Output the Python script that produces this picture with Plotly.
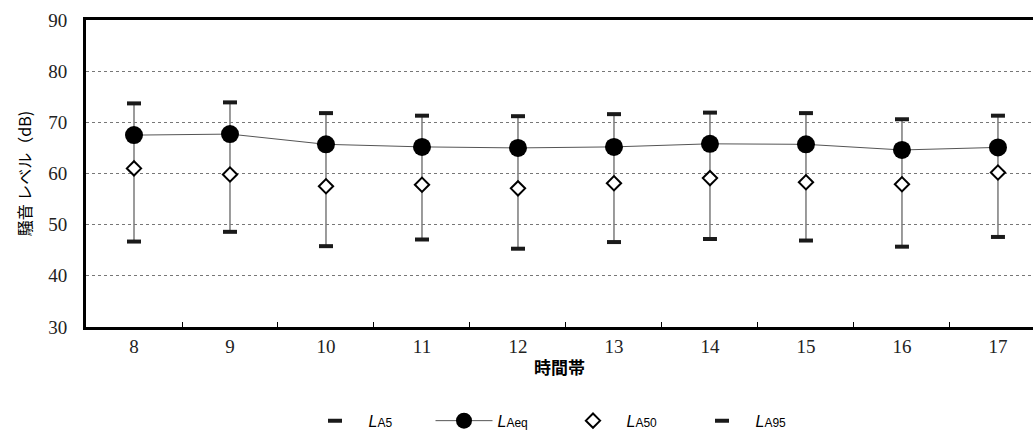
import plotly.graph_objects as go

hours = ["8", "9", "10", "11", "12", "13", "14", "15", "16", "17"]
la5 = [73.7, 73.9, 71.8, 71.3, 71.2, 71.6, 71.9, 71.8, 70.6, 71.3]
laeq = [67.5, 67.7, 65.7, 65.2, 65.0, 65.2, 65.8, 65.7, 64.6, 65.1]
la50 = [61.0, 59.8, 57.5, 57.8, 57.1, 58.1, 59.1, 58.3, 57.9, 60.2]
la95 = [46.7, 48.6, 45.8, 47.1, 45.3, 46.6, 47.2, 46.9, 45.7, 47.6]

def lbl(sub):
    return ('<i>L</i><span style="font-size:12px">' + sub + '</span>')

up = [a - b for a, b in zip(la5, laeq)]
down = [b - c for b, c in zip(laeq, la95)]

fig = go.Figure()
fig.add_trace(go.Scatter(
    x=hours, y=laeq, name=lbl("Aeq"), mode="lines+markers", legendrank=2,
    line=dict(color="#555555", width=1),
    marker=dict(symbol="circle", size=18, color="black"),
    error_y=dict(type="data", symmetric=False, array=up, arrayminus=down,
                 width=0, color="#7a7a7a", thickness=1.5),
))
fig.add_trace(go.Scatter(
    x=hours, y=la50, name=lbl("A50"), mode="markers", legendrank=3,
    marker=dict(symbol="diamond", size=11, color="white",
                line=dict(color="black", width=2)),
))
fig.add_trace(go.Scatter(
    x=hours, y=la5, name=lbl("A5"), mode="markers", legendrank=1,
    marker=dict(symbol="line-ew", size=10, line=dict(color="#1a1a1a", width=4)),
))
fig.add_trace(go.Scatter(
    x=hours, y=la95, name=lbl("A95"), mode="markers", legendrank=4,
    marker=dict(symbol="line-ew", size=10, line=dict(color="#1a1a1a", width=4)),
))

fig.update_layout(
    width=1033, height=441,
    margin=dict(l=86, r=0, t=20, b=114, autoexpand=False),
    plot_bgcolor="white", paper_bgcolor="white",
    showlegend=True,
    legend=dict(orientation="h", x=0.5, xanchor="center", y=-0.25, yanchor="top",
                itemwidth=57, entrywidth=57, entrywidthmode="pixels",
                font=dict(family="Liberation Sans", size=16, color="black"),
                traceorder="normal"),
    xaxis=dict(
        type="category", range=[-0.5, 9.365],
        showline=True, linecolor="black", linewidth=3, mirror=True,
        ticks="inside", tickson="boundaries", ticklen=5, tickcolor="black", tickwidth=1,
        showgrid=False,
        tickfont=dict(family="Liberation Serif", size=19, color="#222"),
        title=dict(text="<b>時間帯</b>", standoff=7,
                   font=dict(family="Noto Sans CJK JP", size=17, color="black")),
    ),
    yaxis=dict(
        range=[30, 90], dtick=10, tick0=30,
        showline=True, linecolor="black", linewidth=3,
        ticks="", ticklabelstandoff=12,
        showgrid=True, gridcolor="#777777", griddash="dot", gridwidth=1,
        zeroline=False,
        tickfont=dict(family="Liberation Serif", size=19, color="#222"),
        title=dict(text="騒音 レベル（dB)", standoff=13,
                   font=dict(family="Noto Sans CJK JP", size=16, color="black")),
    ),
)

fig.write_html("out.html", config={"displayModeBar": False},
               post_script="document.body.style.margin='0';")
